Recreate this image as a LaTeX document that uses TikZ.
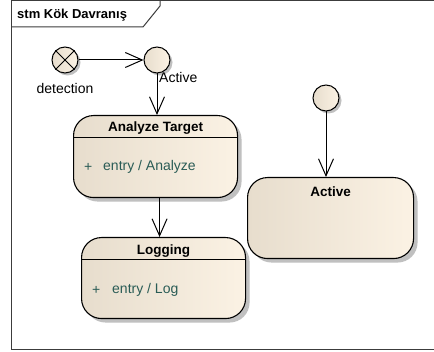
\documentclass[tikz,border=0pt]{standalone}
\usepackage{fontspec}
\setmainfont{Liberation Sans}
\usetikzlibrary{arrows.meta,shadows}
\definecolor{boxL}{RGB}{231,221,205}
\definecolor{boxR}{RGB}{251,242,228}
\definecolor{entryc}{RGB}{42,92,86}
\definecolor{framec}{RGB}{60,60,60}
\definecolor{shadowc}{RGB}{192,192,192}
\tikzset{
  statebox/.style={draw=black, line width=1.1pt, rounded corners=20pt,
    left color=boxL, right color=boxR, inner sep=0pt, anchor=north west,
    drop shadow={shadow xshift=4pt, shadow yshift=-4pt, fill=shadowc, opacity=1}},
  pseudo/.style={circle, draw=black, line width=1pt, inner sep=0pt, minimum size=26pt,
    left color=boxL, right color=boxR,
    drop shadow={shadow xshift=2.5pt, shadow yshift=-2.5pt, fill=shadowc, opacity=1}},
  titletext/.style={font=\fontsize{13.5}{16}\selectfont\bfseries},
  entrytext/.style={font=\fontsize{14}{16}\selectfont, text=entryc, anchor=west, inner sep=0pt},
  plaintext/.style={font=\fontsize{14}{16}\selectfont, inner sep=0pt},
  trans/.style={draw=black, line width=1pt, -{Straight Barb[length=17pt,width=15pt]}},
  sepline/.style={draw=black, line width=1.1pt}
}
\begin{document}
\begin{tikzpicture}[x=1pt,y=-1pt]
\useasboundingbox (0,0) rectangle (434,352);
\fill[white] (0,0) rectangle (434,352);
% frame
\draw[framec, line width=1pt] (434,1) -- (11,1) -- (11,350) -- (434,350);
\draw[framec, line width=1pt] (11,27) -- (143,27) -- (160,6) -- (160,1);
\node[titletext, font=\fontsize{13}{16}\selectfont\bfseries, anchor=west, inner sep=0pt] (title) at (17,15) {stm Kök Davranış};

% pseudo states
\node[pseudo] (det) at (65,60) {};
\draw[line width=1pt] (det.north west) -- (det.south east);
\draw[line width=1pt] (det.north east) -- (det.south west);
\node[pseudo] (junc) at (157,60) {};
\node[pseudo] (init) at (326,98) {};
\node[plaintext] (detl) at (65,89) {detection};
\node[plaintext, anchor=west] (juncl) at (159,78) {Active};

% states
\node[statebox, minimum width=164pt, minimum height=82pt] (an) at (73,115) {};
\node[titletext] (ant) at ([yshift=-13pt]an.north) {Analyze Target};
\draw[sepline] ([yshift=-22.5pt]an.north west) -- ([yshift=-22.5pt]an.north east);
\node[entrytext] (anp) at ([xshift=11pt,yshift=-52pt]an.north west) {+};
\node[entrytext] (ane) at ([xshift=30pt,yshift=-52pt]an.north west) {entry / Analyze};

\node[statebox, minimum width=164pt, minimum height=81pt] (lg) at (81,237) {};
\node[titletext] (lgt) at ([yshift=-14pt]lg.north) {Logging};
\draw[sepline] ([yshift=-22.5pt]lg.north west) -- ([yshift=-22.5pt]lg.north east);
\node[entrytext] (lgp) at ([xshift=11pt,yshift=-53pt]lg.north west) {+};
\node[entrytext] (lge) at ([xshift=31pt,yshift=-53pt]lg.north west) {entry / Log};

\node[statebox, minimum width=166pt, minimum height=81pt] (act) at (247,177) {};
\node[titletext] (actt) at ([yshift=-15pt]act.north) {Active};

% transitions
\draw[trans] (det.east) -- (junc.west);
\draw[trans] (junc.south) -- (junc.south |- an.north);
\draw[trans] ([xshift=4pt]an.south) -- ([xshift=4pt]an.south |- lg.north);
\draw[trans] (init.south) -- (init.south |- act.north);
\end{tikzpicture}
\end{document}
